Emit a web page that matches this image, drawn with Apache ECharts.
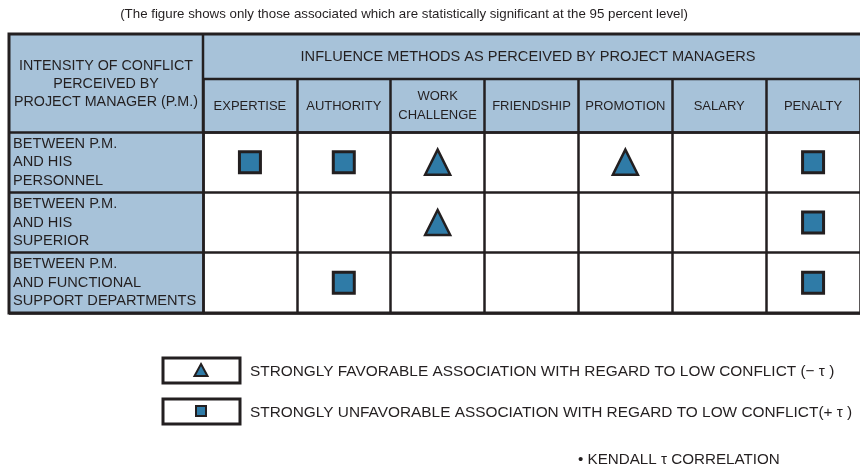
<!DOCTYPE html>
<html>
<head>
<meta charset="utf-8">
<script src="https://cdn.jsdelivr.net/npm/echarts@6/dist/echarts.min.js"></script>
<style>
html,body{margin:0;padding:0;background:#fff;}
#chart{width:860px;height:469px;}
</style>
</head>
<body>
<div id="chart"></div>
<script>
// ---- data ----
const titleNote = '(The figure shows only those associated which are statistically significant at the 95 percent level)';
const rowHeader = 'INTENSITY OF CONFLICT\nPERCEIVED BY\nPROJECT MANAGER (P.M.)';
const colHeader = 'INFLUENCE METHODS AS PERCEIVED BY PROJECT MANAGERS';
const methods = ['EXPERTISE', 'AUTHORITY', 'WORK\nCHALLENGE', 'FRIENDSHIP', 'PROMOTION', 'SALARY', 'PENALTY'];
const conflictLevels = [
  'BETWEEN P.M.\nAND HIS\nPERSONNEL',
  'BETWEEN P.M.\nAND HIS\nSUPERIOR',
  'BETWEEN P.M.\nAND FUNCTIONAL\nSUPPORT DEPARTMENTS'
];
// [method index, conflict level index]
const favorable = [[2, 0], [4, 0], [2, 1]];
const unfavorable = [[0, 0], [1, 0], [6, 0], [6, 1], [1, 2], [6, 2]];
const legendFavorable = 'STRONGLY FAVORABLE ASSOCIATION WITH REGARD TO LOW CONFLICT (− τ )';
const legendUnfavorable = 'STRONGLY UNFAVORABLE ASSOCIATION WITH REGARD TO LOW CONFLICT(+ τ )';
const footNote = '• KENDALL τ CORRELATION';

// ---- style ----
const FONT = '"Liberation Sans", Arial, Helvetica, sans-serif';
const DARK = '#231f20';
const TEXT = '#231f20';
const HEAD = '#a7c2d9';
const MARK = '#2f7ba7';

const chart = echarts.init(document.getElementById('chart'), null, {renderer: 'canvas'});

const option = {
  animation: false,
  backgroundColor: '#ffffff',
  textStyle: {fontFamily: FONT},
  grid: {left: 203, top: 132, width: 657, height: 181, containLabel: false},
  xAxis: {
    type: 'category',
    data: methods,
    position: 'top',
    boundaryGap: true,
    axisLine: {show: true, lineStyle: {color: DARK, width: 2.5}},
    axisTick: {show: true, interval: 0, length: 53, lineStyle: {color: DARK, width: 2.5}},
    axisLabel: {interval: 0, margin: 26, fontSize: 13, lineHeight: 19, color: TEXT, fontFamily: FONT, verticalAlign: 'middle'},
    splitLine: {show: true, interval: 0, lineStyle: {color: DARK, width: 2.5}}
  },
  yAxis: {
    type: 'category',
    data: conflictLevels,
    inverse: true,
    boundaryGap: true,
    axisLine: {show: true, lineStyle: {color: DARK, width: 2.5}},
    axisTick: {show: true, interval: 0, length: 194, lineStyle: {color: DARK, width: 2.5}},
    axisLabel: {interval: 0, margin: 190, align: 'left', fontSize: 14.6, lineHeight: 18.5, padding: [7, 0, 0, 0], color: TEXT, fontFamily: FONT},
    splitLine: {show: true, interval: 0, lineStyle: {color: DARK, width: 2.5}}
  },
  series: [
    {
      name: 'favorable',
      type: 'scatter',
      data: favorable,
      symbol: 'triangle',
      symbolSize: 25,
      silent: true,
      itemStyle: {color: MARK, borderColor: DARK, borderWidth: 2.5, opacity: 1},
      z: 5
    },
    {
      name: 'unfavorable',
      type: 'scatter',
      data: unfavorable,
      symbol: 'rect',
      symbolSize: 21,
      silent: true,
      itemStyle: {color: MARK, borderColor: DARK, borderWidth: 3, opacity: 1},
      z: 5
    }
  ],
  graphic: [
    // header backgrounds
    {type: 'rect', z: -10, silent: true, shape: {x: 9, y: 34, width: 860, height: 98}, style: {fill: HEAD}},
    {type: 'rect', z: -10, silent: true, shape: {x: 9, y: 132, width: 194, height: 181}, style: {fill: HEAD}},
    // header lines
    {type: 'line', z: 50, silent: true, shape: {x1: 203, y1: 79, x2: 870, y2: 79}, style: {stroke: DARK, lineWidth: 2.5}},
    {type: 'line', z: 50, silent: true, shape: {x1: 203, y1: 34, x2: 203, y2: 132}, style: {stroke: DARK, lineWidth: 2.5}},
    // outer border
    {type: 'rect', z: 60, silent: true, shape: {x: 9, y: 34, width: 900, height: 279}, style: {fill: null, stroke: DARK, lineWidth: 3}},
    // header texts
    {type: 'text', z: 70, silent: true, style: {x: 106, y: 84, text: rowHeader, align: 'center', verticalAlign: 'middle', fontSize: 14.3, lineHeight: 18, fill: TEXT, fontFamily: FONT}},
    {type: 'text', z: 70, silent: true, style: {x: 528, y: 57, text: colHeader, align: 'center', verticalAlign: 'middle', fontSize: 14.6, fill: TEXT, fontFamily: FONT}},
    // title note
    {type: 'text', z: 70, silent: true, style: {x: 404, y: 14, text: titleNote, align: 'center', verticalAlign: 'middle', fontSize: 13.3, fill: TEXT, fontFamily: FONT}},
    // legend boxes
    {type: 'rect', z: 70, silent: true, shape: {x: 163, y: 358, width: 77, height: 25}, style: {fill: '#fff', stroke: DARK, lineWidth: 3}},
    {type: 'rect', z: 70, silent: true, shape: {x: 163, y: 399, width: 77, height: 25}, style: {fill: '#fff', stroke: DARK, lineWidth: 3}},
    {type: 'polygon', z: 71, silent: true, shape: {points: [[201, 364], [207.5, 376], [194.5, 376]]}, style: {fill: MARK, stroke: DARK, lineWidth: 2, lineJoin: 'miter'}},
    {type: 'rect', z: 71, silent: true, shape: {x: 196, y: 406, width: 10, height: 10}, style: {fill: MARK, stroke: DARK, lineWidth: 2}},
    {type: 'text', z: 70, silent: true, style: {x: 250, y: 372, text: legendFavorable, align: 'left', verticalAlign: 'middle', fontSize: 15.4, fill: TEXT, fontFamily: FONT}},
    {type: 'text', z: 70, silent: true, style: {x: 250, y: 413, text: legendUnfavorable, align: 'left', verticalAlign: 'middle', fontSize: 15.4, fill: TEXT, fontFamily: FONT}},
    {type: 'text', z: 70, silent: true, style: {x: 578, y: 460, text: footNote, align: 'left', verticalAlign: 'middle', fontSize: 15.2, fill: TEXT, fontFamily: FONT}}
  ]
};
chart.setOption(option);
</script>
</body>
</html>
